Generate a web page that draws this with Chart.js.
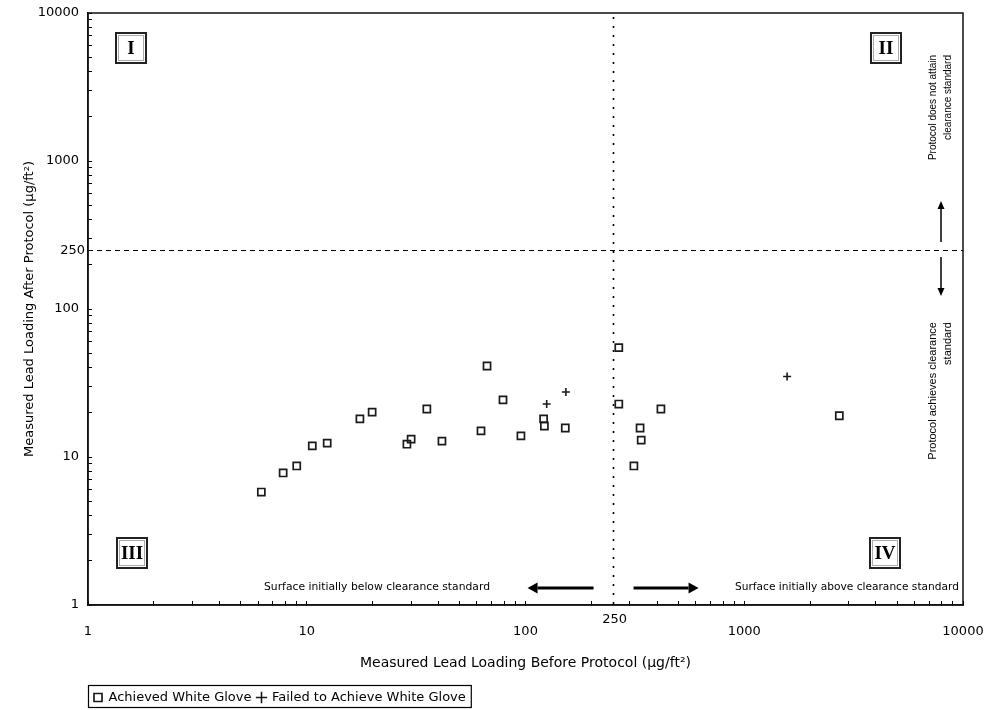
<!DOCTYPE html>
<html><head><meta charset="utf-8">
<script src="https://cdn.jsdelivr.net/npm/chart.js@4"></script>
<style>html,body{margin:0;padding:0;background:#fff}</style>
</head><body>
<canvas id="c" width="989" height="710"></canvas>
<script>
// ---- data ----
const achievedBefore = [6.2, 7.8, 9.0, 10.6, 12.4, 17.5, 19.9, 28.7, 30.0, 35.4, 41.5, 62.6, 66.7, 78.9, 95.3, 121, 122, 152, 267, 267, 416, 334, 338, 313, 2720];
const achievedAfter  = [5.8, 7.8, 8.7, 11.9, 12.4, 18.1, 20.1, 12.2, 13.2, 21.1, 12.8, 15.0, 41.2, 24.3, 13.9, 18.1, 16.2, 15.7, 54.8, 22.8, 21.1, 15.7, 13.0, 8.7, 19.0];
const failedBefore = [125, 153, 1570];
const failedAfter  = [22.8, 27.5, 35.0];
const majorTicks = [1, 10, 100, 1000, 10000];
const standardValue = 250;
const seriesNames = ['Achieved White Glove', 'Failed to Achieve White Glove'];
const xTitle = 'Measured Lead Loading Before Protocol (µg/ft²)';
const yTitle = 'Measured Lead Loading After Protocol (µg/ft²)';
const quadrantLabels = ['I', 'II', 'III', 'IV'];
const noteBelow = 'Surface initially below clearance standard';
const noteAbove = 'Surface initially above clearance standard';
const noteNotAttain = ['Protocol does not attain', 'clearance standard'];
const noteAchieves = ['Protocol achieves clearance', 'standard'];

const FONT = 'DejaVu Sans';

function logTicks(scale) {
  const t = [];
  for (let e = 0; e <= 4; e++) {
    const b = Math.pow(10, e);
    t.push({ value: b });
    if (e < 4) for (let m = 2; m <= 9; m++) t.push({ value: m * b });
  }
  scale.ticks = t;
}
const tickLabel = v => majorTicks.includes(v) ? String(v) : '';

function arrow(ctx, x1, y1, x2, y2, lw, hl, hw) {
  const ang = Math.atan2(y2 - y1, x2 - x1);
  const bx = x2 - Math.cos(ang) * hl, by = y2 - Math.sin(ang) * hl;
  ctx.lineWidth = lw;
  ctx.beginPath(); ctx.moveTo(x1, y1); ctx.lineTo(bx, by); ctx.stroke();
  ctx.beginPath();
  ctx.moveTo(x2, y2);
  ctx.lineTo(bx + Math.sin(ang) * hw / 2, by - Math.cos(ang) * hw / 2);
  ctx.lineTo(bx - Math.sin(ang) * hw / 2, by + Math.cos(ang) * hw / 2);
  ctx.closePath(); ctx.fill();
}

const overlay = {
  id: 'overlay',
  beforeDatasetsDraw(chart) {
    const { ctx, chartArea: a, scales: { x, y } } = chart;
    ctx.save();
    ctx.strokeStyle = '#000';
    const yy = Math.round(y.getPixelForValue(standardValue)) + 0.5;
    ctx.lineWidth = 1; ctx.setLineDash([5, 4]);
    ctx.beginPath(); ctx.moveTo(a.left, yy); ctx.lineTo(a.right, yy); ctx.stroke();
    const xx = Math.round(x.getPixelForValue(standardValue)) + 0.5;
    ctx.lineWidth = 1.6; ctx.setLineDash([2, 7]);
    ctx.beginPath(); ctx.moveTo(xx, a.top + 4); ctx.lineTo(xx, a.bottom); ctx.stroke();
    ctx.restore();
  },
  afterDraw(chart) {
    const { ctx, chartArea: a, scales: { x, y } } = chart;
    const xs = x.getPixelForValue(standardValue), ys = y.getPixelForValue(standardValue);
    ctx.save();
    // frame
    ctx.strokeStyle = '#111'; ctx.lineWidth = 1.5;
    ctx.strokeRect(a.left, a.top, a.right - a.left, a.bottom - a.top);
    // 250 labels
    ctx.fillStyle = '#000';
    ctx.font = '13px "' + FONT + '"';
    ctx.textAlign = 'right'; ctx.textBaseline = 'middle';
    ctx.fillText(String(standardValue), a.left - 3, ys + 1);
    ctx.textAlign = 'center';
    ctx.fillText(String(standardValue), xs + 2, a.bottom + 15);
    // quadrant boxes
    const boxes = [
      [a.left + 28, a.top + 20], [a.right - 92, a.top + 20],
      [a.left + 29, a.bottom - 67], [a.right - 93, a.bottom - 67]
    ];
    ctx.font = 'bold 19px "Liberation Serif"';
    boxes.forEach((b, i) => {
      ctx.strokeStyle = '#222'; ctx.lineWidth = 2;
      ctx.strokeRect(b[0], b[1], 30, 30);
      ctx.strokeStyle = '#aaa'; ctx.lineWidth = 1;
      ctx.strokeRect(b[0] + 2.5, b[1] + 2.5, 25, 25);
      ctx.fillStyle = '#000'; ctx.textAlign = 'center'; ctx.textBaseline = 'middle';
      ctx.fillText(quadrantLabels[i], b[0] + 15, b[1] + 16);
    });
    // bottom notes
    ctx.font = '11px "' + FONT + '"';
    ctx.textBaseline = 'middle';
    ctx.textAlign = 'left';
    ctx.fillText(noteBelow, a.left + 176, a.bottom - 18, 226);
    ctx.textAlign = 'right';
    ctx.fillText(noteAbove, a.right - 4, a.bottom - 18, 224);
    // horizontal arrows
    ctx.strokeStyle = '#000'; ctx.fillStyle = '#000';
    arrow(ctx, xs - 19, a.bottom - 17, xs - 85, a.bottom - 17, 3, 10, 11);
    arrow(ctx, xs + 21, a.bottom - 17, xs + 86, a.bottom - 17, 3, 10, 11);
    // vertical arrows
    const ax = a.right - 22;
    arrow(ctx, ax, ys - 8, ax, ys - 49, 1.5, 8, 7);
    arrow(ctx, ax, ys + 7, ax, ys + 46, 1.5, 8, 7);
    // rotated notes (read bottom to top, lines end at a common top)
    ctx.textAlign = 'right'; ctx.textBaseline = 'middle';
    const rot = (t, cx, cy) => { ctx.save(); ctx.translate(cx, cy); ctx.rotate(-Math.PI / 2); ctx.fillText(t, 0, 0); ctx.restore(); };
    ctx.font = '10px "Liberation Sans"';
    rot(noteNotAttain[0], a.right - 30, a.top + 42);
    rot(noteNotAttain[1], a.right - 15, a.top + 42);
    ctx.font = '11px "Liberation Sans"';
    rot(noteAchieves[0], a.right - 30, ys + 72);
    rot(noteAchieves[1], a.right - 15, ys + 72);
    // legend frame
    const lg = chart.legend;
    if (lg && lg.legendHitBoxes && lg.legendHitBoxes.length) {
      const hb = lg.legendHitBoxes, last = hb[hb.length - 1];
      ctx.strokeStyle = '#000'; ctx.lineWidth = 1.2;
      ctx.strokeRect(hb[0].left - 5.5, 685.5, last.left + last.width - hb[0].left + 11, 22);
    }
    ctx.restore();
  }
};

const noPad = s => { s.paddingLeft = 0; s.paddingRight = 0; s.paddingTop = 0; s.paddingBottom = 0; };

new Chart(document.getElementById('c'), {
  type: 'scatter',
  data: {
    datasets: [
      {
        label: seriesNames[0],
        data: achievedBefore.map((v, i) => ({ x: v, y: achievedAfter[i] })),
        pointStyle: 'rect', pointRadius: 5, pointHoverRadius: 5,
        borderColor: '#1a1a1a', backgroundColor: 'rgba(255,255,255,0)', borderWidth: 1.7
      },
      {
        label: seriesNames[1],
        data: failedBefore.map((v, i) => ({ x: v, y: failedAfter[i] })),
        pointStyle: 'cross', pointRadius: 4, pointHoverRadius: 4,
        borderColor: '#1a1a1a', backgroundColor: '#1a1a1a', borderWidth: 1.6
      }
    ]
  },
  options: {
    responsive: false, animation: false, devicePixelRatio: 1,
    layout: { autoPadding: false, padding: { left: 0, right: 26, top: 13, bottom: -4 } },
    plugins: {
      tooltip: { enabled: false },
      legend: {
        position: 'bottom', align: 'start', fullSize: false,
        labels: {
          usePointStyle: true, boxWidth: 8, boxHeight: 8, padding: 6,
          color: '#000', font: { family: FONT, size: 13 }
        }
      }
    },
    scales: {
      x: {
        type: 'logarithmic', min: 1, max: 10000,
        afterBuildTicks: logTicks,
        afterFit: s => { s.height = 80; noPad(s); },
        grid: { drawOnChartArea: false, drawTicks: true, tickLength: -4, color: '#000', tickColor: '#000', lineWidth: 1 },
        border: { display: true, color: '#111', width: 1.5 },
        ticks: { autoSkip: false, maxRotation: 0, minRotation: 0, padding: 23, color: '#000', font: { family: FONT, size: 13 }, callback: tickLabel },
        title: { display: true, text: xTitle, color: '#000', font: { family: FONT, size: 14 }, padding: { top: 0, bottom: 13 } }
      },
      y: {
        type: 'logarithmic', min: 1, max: 10000,
        afterBuildTicks: logTicks,
        afterFit: s => { s.width = 88; noPad(s); },
        grid: { drawOnChartArea: false, drawTicks: true, tickLength: -4, color: '#000', tickColor: '#000', lineWidth: 1 },
        border: { display: true, color: '#111', width: 1.5 },
        ticks: { autoSkip: false, padding: 13, color: '#000', font: { family: FONT, size: 13 }, callback: tickLabel },
        title: { display: true, text: yTitle, color: '#000', font: { family: FONT, size: 13 }, padding: { top: 22, bottom: 0 } }
      }
    }
  },
  plugins: [overlay]
});
</script>
</body></html>
